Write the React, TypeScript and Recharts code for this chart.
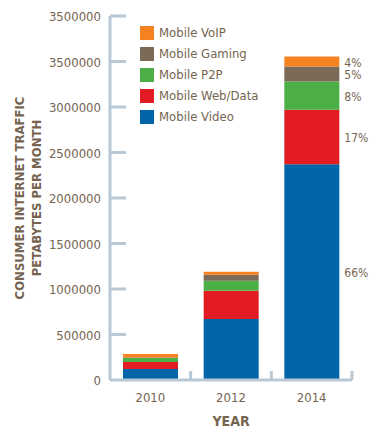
import { BarChart, Bar, XAxis, YAxis, Legend, LabelList, Label } from 'recharts';

const years = ['2010', '2012', '2014'];
const mobileVideo = [120000, 670000, 2370000];
const mobileWebData = [77000, 310000, 600000];
const mobileP2P = [44000, 110000, 310000];
const mobileGaming = [5000, 66000, 165000];
const mobileVoIP = [40000, 33000, 110000];
const shares2014 = ['66%', '17%', '8%', '5%', '4%'];

const yTicks = [0, 500000, 1000000, 1500000, 2000000, 2500000, 3000000, 3500000, 4000000];
// the top label really reads 3500000 in the original
const yTickLabels = ['0', '500000', '1000000', '1500000', '2000000', '2500000', '3000000', '3500000', '3500000'];

const series = [
  { key: 'video', name: 'Mobile Video', color: '#0064a8', values: mobileVideo },
  { key: 'web', name: 'Mobile Web/Data', color: '#e31b23', values: mobileWebData },
  { key: 'p2p', name: 'Mobile P2P', color: '#4caf46', values: mobileP2P },
  { key: 'gaming', name: 'Mobile Gaming', color: '#7b6a57', values: mobileGaming },
  { key: 'voip', name: 'Mobile VoIP', color: '#f58220', values: mobileVoIP },
];

const data = years.map((year, i) => {
  const row: Record<string, string | number> = { year };
  series.forEach((s) => {
    row[s.key] = s.values[i];
  });
  return row;
});

const FONT = "'DejaVu Sans Condensed', 'DejaVu Sans', sans-serif";
const TEXT = '#75644f';
const AXIS = '#b9c8d5';

const YTick = (props: any) => {
  const { x, y, payload } = props;
  const i = yTicks.indexOf(payload.value);
  return (
    <g>
      {payload.value !== 0 && (
        <line x1={x + 9} x2={x + 25} y1={y} y2={y} stroke={AXIS} strokeWidth={3} />
      )}
      <text x={x} y={y} dy={5} textAnchor="end" fill={TEXT} fontFamily={FONT} fontSize={13}>
        {yTickLabels[i]}
      </text>
    </g>
  );
};

const XTick = (props: any) => {
  const { x, y, payload, width, visibleTicksCount } = props;
  const half = width && visibleTicksCount ? width / visibleTicksCount / 2 : 40;
  return (
    <g>
      <line x1={x + half} x2={x + half} y1={y} y2={y - 9} stroke={AXIS} strokeWidth={3} />
      <text x={x} y={y} dy={22} textAnchor="middle" fill={TEXT} fontFamily={FONT} fontSize={13}>
        {payload.value}
      </text>
    </g>
  );
};

const renderLegend = () => (
  <div>
    {[...series].reverse().map((s) => (
      <div key={s.key} style={{ display: 'flex', alignItems: 'center', height: 21 }}>
        <span style={{ width: 14, height: 14, background: s.color, display: 'inline-block', marginRight: 5 }} />
        <span style={{ color: TEXT, fontFamily: FONT, fontSize: 13 }}>{s.name}</span>
      </div>
    ))}
  </div>
);

const shareLabel = (idx: number) => (p: any) => {
  if (p.index !== 2) return null;
  return (
    <text x={p.x + p.width + 5} y={p.y + p.height / 2 + 5} fill={TEXT} fontFamily={FONT} fontSize={12}>
      {shares2014[idx]}
    </text>
  );
};

const yTitle = (p: any) => {
  const vb = p.viewBox;
  const cy = vb.y + vb.height / 2;
  return (
    <g fontFamily={FONT} fontSize={13} fontWeight="bold" fill={TEXT} textAnchor="middle">
      <text x={vb.x + 19} y={cy} dy={5} transform={`rotate(-90 ${vb.x + 19} ${cy})`}>
        CONSUMER INTERNET TRAFFIC
      </text>
      <text x={vb.x + 36} y={cy} dy={5} transform={`rotate(-90 ${vb.x + 36} ${cy})`}>
        PETABYTES PER MONTH
      </text>
    </g>
  );
};

const xTitle = (p: any) => {
  const vb = p.viewBox;
  return (
    <text
      x={vb.x + vb.width / 2}
      y={vb.y + 46}
      textAnchor="middle"
      fontFamily={FONT}
      fontSize={14}
      fontWeight="bold"
      fill={TEXT}
    >
      YEAR
    </text>
  );
};

export default function App() {
  return (
    <div style={{ position: 'absolute', left: 0, top: 0, background: '#fff' }}>
      <BarChart width={369} height={431} data={data} margin={{ top: 16, right: 17, bottom: 0, left: 0 }}>
        <XAxis
          dataKey="year"
          height={51}
          axisLine={{ stroke: AXIS, strokeWidth: 3 }}
          tickLine={false}
          tickSize={0}
          tickMargin={0}
          tick={<XTick />}
        >
          <Label content={xTitle} />
        </XAxis>
        <YAxis
          width={110}
          domain={[0, 4000000]}
          ticks={yTicks}
          interval={0}
          axisLine={{ stroke: AXIS, strokeWidth: 3 }}
          tickLine={false}
          tickSize={0}
          tickMargin={9}
          tick={<YTick />}
        >
          <Label content={yTitle} />
        </YAxis>
        <Legend
          layout="vertical"
          verticalAlign="middle"
          align="center"
          content={renderLegend}
          wrapperStyle={{ top: 22, left: 140, width: 160 }}
        />
        {series.map((s, idx) => (
          <Bar
            key={s.key}
            dataKey={s.key}
            name={s.name}
            stackId="a"
            fill={s.color}
            barSize={55}
            isAnimationActive={false}
          >
            <LabelList content={shareLabel(idx)} />
          </Bar>
        ))}
      </BarChart>
    </div>
  );
}
